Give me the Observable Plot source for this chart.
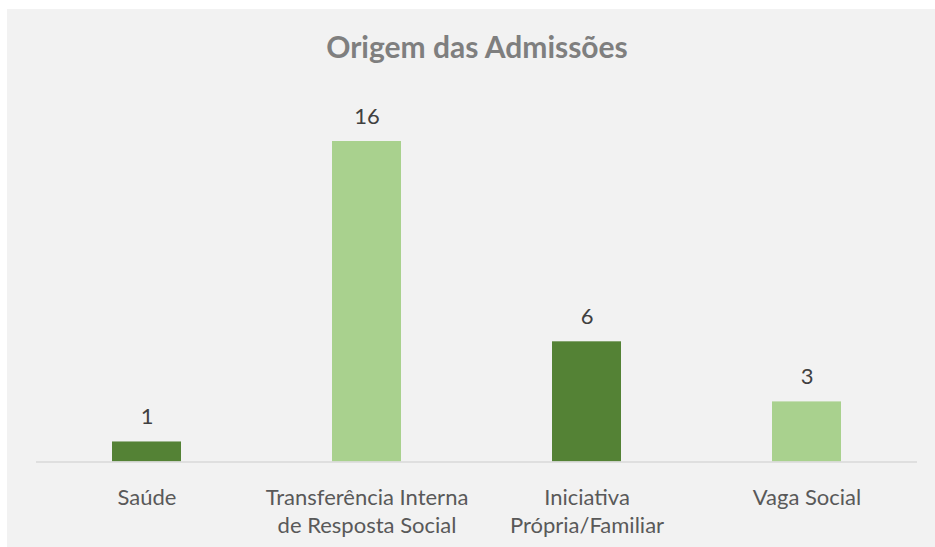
<!DOCTYPE html>
<html>
<head>
<meta charset="utf-8">
<script src="https://cdn.jsdelivr.net/npm/d3@7"></script>
<script src="https://cdn.jsdelivr.net/npm/@observablehq/plot@0.6"></script>
<style>
  html, body { margin: 0; padding: 0; background: #ffffff; }
  #wrap { position: relative; width: 935px; height: 547px; overflow: hidden; background: #ffffff; }
  #panel { position: absolute; left: 7px; top: 9px; right: 0; bottom: 0; background: #f2f2f2; }
  #title { position: absolute; left: 0; width: 954px; top: 31px; text-align: center; line-height: 1;
           font-family: Lato, "Open Sans", sans-serif; font-weight: bold; font-size: 30px; color: #7f7f7f; }
  #chart { position: absolute; left: 0; top: 80px; }
</style>
</head>
<body>
<div id="wrap">
  <div id="panel"></div>
  <div id="title">Origem das Admissões</div>
  <div id="chart"></div>
</div>
<script>
const categories = ["Saúde", "Transferência Interna de Resposta Social", "Iniciativa Própria/Familiar", "Vaga Social"];
const tickLabels = ["Saúde", "Transferência Interna\nde Resposta Social", "Iniciativa\nPrópria/Familiar", "Vaga Social"];
const values = [1, 16, 6, 3];

const DARK = "#548235", LIGHT = "#a9d18e";
const data = categories.map((c, i) => ({cat: c, value: values[i]}));
const labelOf = new Map(categories.map((c, i) => [c, tickLabels[i]]));

const chart = Plot.plot({
  width: 935,
  height: 467,
  marginLeft: 36,
  marginRight: 18,
  marginTop: 61,
  marginBottom: 85.5,
  style: {background: "transparent", fontFamily: "Lato, 'Open Sans', sans-serif", fontSize: "22px", overflow: "visible"},
  x: {domain: categories, paddingInner: 0.687, paddingOuter: 0.3435},
  y: {domain: [0, 16], axis: null},
  marks: [
    Plot.barY(data, {x: "cat", y: "value", fill: (d, i) => (i % 2 === 0 ? DARK : LIGHT)}),
    Plot.ruleY([0], {stroke: "#d9d9d9", strokeWidth: 1.5}),
    Plot.text(data, {x: "cat", y: "value", text: d => String(d.value), dy: -18, lineAnchor: "bottom",
                     fill: "#404040", fontSize: 22}),
    Plot.axisX({tickSize: 0, tickPadding: 23, label: null, tickFormat: d => labelOf.get(d),
                fill: "#595959", fontSize: 22, lineHeight: 1.27})
  ]
});
document.getElementById("chart").appendChild(chart);
</script>
</body>
</html>
